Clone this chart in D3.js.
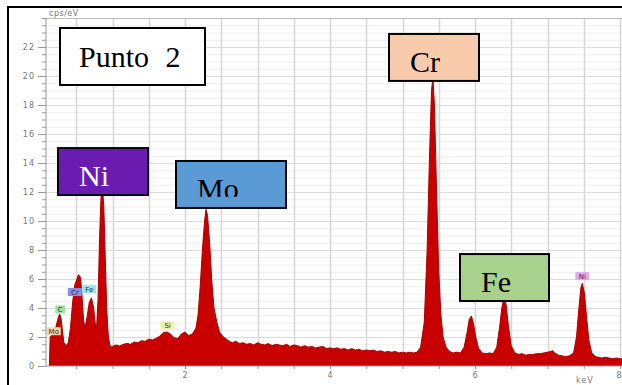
<!DOCTYPE html>
<html>
<head>
<meta charset="utf-8">
<script src="https://cdn.jsdelivr.net/npm/d3@7"></script>
<style>
  html, body { margin: 0; padding: 0; background: #fff; }
  #chart { width: 622px; height: 385px; }
</style>
</head>
<body>
<div id="chart"></div>
<script>
// spectrum (keV, cps/eV)
var energy = [0.13,0.14,0.16,0.18,0.20,0.22,0.25,0.27,0.29,0.31,0.33,0.36,0.39,0.42,0.45,0.48,0.51,0.53,0.56,0.58,0.60,0.62,0.65,0.68,0.71,0.74,0.76,0.78,0.80,0.82,0.84,0.86,0.88,0.90,0.92,0.94,0.96,0.98,
	1.00,1.05,1.10,1.15,1.20,1.25,1.30,1.35,1.40,1.45,1.50,1.55,1.60,1.65,1.70,1.75,1.80,1.85,1.90,1.95,2.00,2.05,2.10,
	2.15,2.18,2.21,2.24,2.27,2.29,2.31,2.34,2.37,2.40,2.44,2.48,2.53,
	2.60,2.65,2.70,2.75,2.80,2.85,2.90,2.95,3.00,3.05,3.10,3.15,3.20,3.25,3.30,3.35,3.40,3.45,3.50,3.55,3.60,3.65,3.70,3.75,3.80,3.85,3.90,3.95,
	4.00,4.05,4.10,4.15,4.20,4.25,4.30,4.35,4.40,4.45,4.50,4.55,4.60,4.65,4.70,4.75,4.80,4.85,4.90,4.95,5.00,5.05,5.10,5.15,5.20,
	5.25,5.30,5.34,5.37,5.40,5.42,5.44,5.47,5.50,5.53,5.56,5.60,5.65,5.70,5.75,5.80,
	5.85,5.89,5.92,5.95,5.98,6.01,6.05,6.10,6.15,6.20,6.25,
	6.30,6.34,6.37,6.40,6.43,6.46,6.50,6.55,6.60,6.65,6.70,6.75,6.80,6.85,6.90,6.95,7.00,7.04,7.07,7.10,7.15,7.20,7.25,7.30,
	7.36,7.40,7.43,7.46,7.48,7.51,7.54,7.57,7.61,7.66,7.70,7.75,7.80,7.85,7.90,7.95,8.00,8.05];
var counts = [0,2.0,2.1,2.2,2.3,2.7,3.3,3.6,3.3,2.4,1.6,1.4,1.6,2.6,4.4,5.6,6.0,6.3,6.1,4.8,3.2,2.6,3.4,4.4,4.7,4.0,3.0,2.6,4.5,8.5,11.5,12.4,11.0,7.5,4.0,2.2,1.5,1.3,
	1.35,1.45,1.38,1.5,1.55,1.5,1.65,1.6,1.75,1.7,1.85,1.8,1.9,2.05,2.3,2.35,2.2,1.95,1.9,2.2,2.35,2.1,2.2,
	2.6,3.5,5.5,8.0,10.0,10.8,10.4,8.5,5.8,4.0,3.0,2.3,2.0,
	1.75,1.6,1.7,1.55,1.6,1.5,1.55,1.45,1.6,1.5,1.45,1.55,1.4,1.5,1.45,1.4,1.5,1.35,1.45,1.4,1.3,1.4,1.3,1.35,1.25,1.3,1.35,1.2,
	1.25,1.2,1.25,1.15,1.2,1.1,1.2,1.1,1.15,1.05,1.1,1.05,1.1,1.0,1.05,0.95,1.0,0.95,1.0,0.9,0.95,0.9,0.95,0.9,0.95,
	1.3,3.0,8.0,14.0,19.0,19.9,18.0,12.0,6.5,3.5,2.0,1.3,1.0,0.9,0.95,0.9,
	1.3,2.3,3.2,3.45,2.9,2.0,1.2,0.9,0.85,0.9,0.85,
	1.3,2.7,4.0,4.7,4.2,2.8,1.4,0.9,0.8,0.85,0.75,0.8,0.8,0.85,0.85,0.9,0.95,1.0,1.05,0.9,0.75,0.7,0.65,0.7,
	0.9,2.0,3.8,5.4,5.7,5.0,3.3,1.8,0.9,0.65,0.6,0.55,0.6,0.55,0.5,0.55,0.5,0.5];

// small element tags on the spectrum
var tagNames = ["Mo","C","Cr","Fe","Si","Ni"];
var tagEnergy = [0.19,0.28,0.48,0.68,1.76,7.48];
var tagLevel = [2.4,3.9,5.1,5.3,2.8,6.2];
var tagColors = ["#f6d3a8","#9be39b","#8c8cf5","#9fe3f0","#eef0a8","#e6a6f0"];

// big annotation boxes (keV / cps corners)
var boxLabels = ["Punto 2","Ni","Mo","Cr","Fe"];
var boxE0 = [0.276,0.248,1.876,4.814,5.793];
var boxE1 = [2.276,1.490,3.393,6.055,7.021];
var boxTop = [23.31,15.03,14.14,22.90,7.72];
var boxBottom = [19.38,11.79,10.90,19.66,4.48];
var boxFill = ["#ffffff","#6a1bb0","#5b9bd5","#f8cbad","#a9d18e"];
var boxText = ["#000","#fff","#000","#000","#000"];

var yTicks = [0,2,4,6,8,10,12,14,16,18,20,22];
var xTicks = [2,4,6,8];

var W = 622, H = 385;
var svg = d3.select("#chart").append("svg")
	.attr("width", W).attr("height", H);

var plot = {left:46, right:622, top:18, bottom:366};

var x = d3.scaleLinear().domain([0, 8]).range([40, 620]);
var y = d3.scaleLinear().domain([0, 24]).range([366, 18]);

// outer frame
svg.append("path")
	.attr("d", "M8,386 L8,7 L623,7")
	.attr("fill", "none").attr("stroke", "#000").attr("stroke-width", 2);

svg.append("clipPath").attr("id", "plotclip")
	.append("rect")
	.attr("x", plot.left).attr("y", plot.top)
	.attr("width", plot.right - plot.left).attr("height", plot.bottom - plot.top);

var g = svg.append("g").attr("clip-path", "url(#plotclip)");

// grid
g.selectAll(".hgrid").data(d3.range(0.5, 24.01, 0.5)).enter().append("line")
	.attr("x1", plot.left).attr("x2", plot.right)
	.attr("y1", function(d){ return y(d) + 0.5; })
	.attr("y2", function(d){ return y(d) + 0.5; })
	.attr("stroke", function(d){ return d % 2 == 0 ? "#dcdcdc" : "#eeeeee"; })
	.attr("stroke-width", 1);

g.selectAll(".vgrid").data(d3.range(0.5, 8.01, 0.5)).enter().append("line")
	.attr("x1", function(d){ return Math.round(x(d)) + 0.5; })
	.attr("x2", function(d){ return Math.round(x(d)) + 0.5; })
	.attr("y1", plot.top).attr("y2", plot.bottom)
	.attr("stroke", "#d6d6d6")
	.attr("stroke-width", 1.5);

svg.append("line")
	.attr("x1", plot.left).attr("x2", plot.right)
	.attr("y1", plot.top + 0.5).attr("y2", plot.top + 0.5)
	.attr("stroke", "#bbb");

// spectrum
var spec = energy.map(function(e, i){ return {e:e, v:counts[i]}; });
var area = d3.area()
	.x(function(d){ return x(d.e); })
	.y0(y(0))
	.y1(function(d){ return y(d.v); });

g.append("path")
	.datum(spec)
	.attr("d", area)
	.attr("fill", "#c80000")
	.attr("stroke", "#a80000")
	.attr("stroke-width", 1)
	.attr("stroke-linejoin", "round");

// axes
var yAxis = d3.axisLeft(y).tickValues(yTicks).tickSize(8).tickPadding(3);
var yMinor = d3.axisLeft(y).tickValues(d3.range(0, 24.01, 0.5)).tickSize(4).tickFormat("");
var xAxis = d3.axisBottom(x).tickValues(xTicks).tickSize(0).tickPadding(6);
var xMinor = d3.axisBottom(x).tickValues(d3.range(0.5, 8.01, 0.5)).tickSize(3).tickFormat("");

function styleAxis(sel) {
	sel.select(".domain").attr("stroke", "#999");
	sel.selectAll(".tick line").attr("stroke", "#999");
	sel.selectAll("text")
		.attr("fill", "#777")
		.style("font-family", "DejaVu Sans, sans-serif")
		.style("font-size", "8px")
		.style("letter-spacing", "1px");
}

svg.append("g").attr("transform", "translate(" + plot.left + ",0)").call(yMinor).call(styleAxis)
	.select(".domain").attr("d", "M0," + plot.top + "V" + plot.bottom);
svg.append("g").attr("transform", "translate(" + plot.left + ",0)").call(yAxis).call(styleAxis)
	.select(".domain").remove();
svg.append("g").attr("transform", "translate(0," + plot.bottom + ")").call(xMinor).call(styleAxis)
	.select(".domain").attr("d", "M" + plot.left + ",0H" + plot.right);
var xg = svg.append("g").attr("transform", "translate(0," + plot.bottom + ")").call(xAxis).call(styleAxis);
xg.select(".domain").remove();
// last label sits on the page edge, keep it inside
xg.selectAll(".tick text").filter(function(d){ return d == 8; })
	.attr("text-anchor", "end").attr("dx", "2px");

svg.append("text").text("cps/eV")
	.attr("x", 49).attr("y", 16)
	.attr("fill", "#777")
	.style("font-family", "DejaVu Sans, sans-serif")
	.style("font-size", "8px")
	.style("letter-spacing", "0.5px");

svg.append("text").text("keV")
	.attr("x", 576).attr("y", 383)
	.attr("fill", "#777")
	.style("font-family", "DejaVu Sans, sans-serif")
	.style("font-size", "8px")
	.style("letter-spacing", "1px");

// element tags
var tags = svg.selectAll(".tag").data(tagNames).enter().append("g")
	.attr("transform", function(d, i){ return "translate(" + x(tagEnergy[i]) + "," + y(tagLevel[i]) + ")"; });
tags.append("rect")
	.attr("x", function(d){ return d.length > 1 ? -7 : -5; })
	.attr("y", -4)
	.attr("width", function(d){ return d.length > 1 ? 14 : 10; })
	.attr("height", 8)
	.attr("fill", function(d, i){ return tagColors[i]; });
tags.append("text").text(function(d){ return d; })
	.attr("text-anchor", "middle").attr("y", 3)
	.attr("fill", "#333")
	.style("font-family", "DejaVu Sans, sans-serif")
	.style("font-size", "7px");

// annotation boxes
var boxes = svg.selectAll(".box").data(boxLabels).enter().append("g");
boxes.append("clipPath")
	.attr("id", function(d, i){ return "bclip" + i; })
	.append("rect")
	.attr("x", function(d, i){ return x(boxE0[i]); })
	.attr("y", function(d, i){ return y(boxTop[i]); })
	.attr("width", function(d, i){ return x(boxE1[i]) - x(boxE0[i]); })
	.attr("height", function(d, i){ return i == 2 ? 36 : y(boxBottom[i]) - y(boxTop[i]); });
boxes.append("rect")
	.attr("x", function(d, i){ return x(boxE0[i]); })
	.attr("y", function(d, i){ return y(boxTop[i]); })
	.attr("width", function(d, i){ return x(boxE1[i]) - x(boxE0[i]); })
	.attr("height", function(d, i){ return y(boxBottom[i]) - y(boxTop[i]); })
	.attr("fill", function(d, i){ return boxFill[i]; })
	.attr("stroke", "#000")
	.attr("stroke-width", 2);
boxes.append("text").text(function(d){ return d; })
	.attr("clip-path", function(d, i){ return "url(#bclip" + i + ")"; })
	.attr("x", function(d, i){ return x(boxE0[i]) + (i == 0 ? 19 : 21); })
	.attr("y", function(d, i){ return y(boxTop[i]) + (i == 0 ? 39 : 38); })
	.attr("fill", function(d, i){ return boxText[i]; })
	.style("font-family", "Liberation Serif, Times New Roman, serif")
	.style("font-size", "30px")
	.style("word-spacing", function(d, i){ return i == 0 ? "9px" : "0px"; });
</script>
</body>
</html>
